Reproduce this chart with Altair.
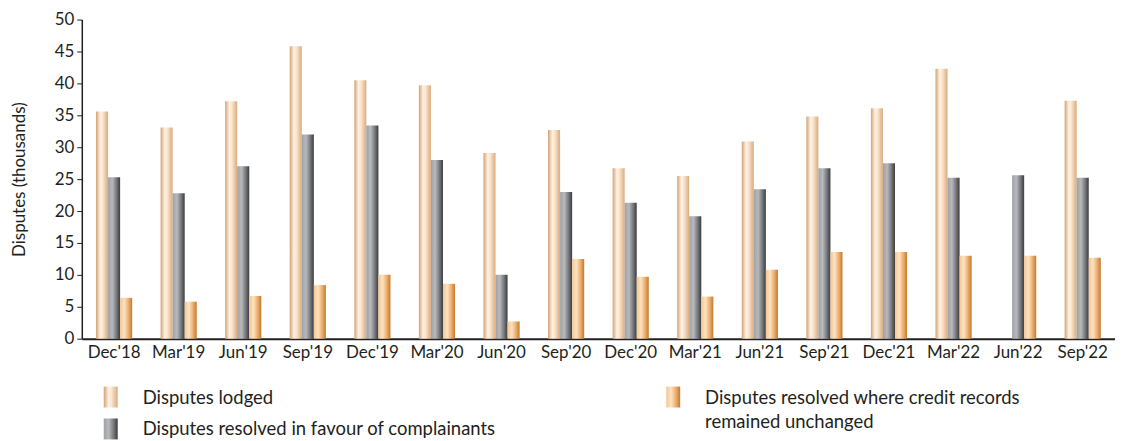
import altair as alt
import pandas as pd

quarters = ["Dec'18", "Mar'19", "Jun'19", "Sep'19", "Dec'19", "Mar'20", "Jun'20", "Sep'20",
            "Dec'20", "Mar'21", "Jun'21", "Sep'21", "Dec'21", "Mar'22", "Jun'22", "Sep'22"]
lodged = [35.6, 33.1, 37.2, 45.8, 40.5, 39.7, 29.1, 32.7, 26.7, 25.5, 30.9, 34.8, 36.1, 42.3, None, 37.3]
favour = [25.3, 22.8, 27.0, 32.0, 33.4, 28.0, 10.0, 23.0, 21.3, 19.2, 23.4, 26.7, 27.5, 25.2, 25.6, 25.2]
unchanged = [6.4, 5.8, 6.7, 8.4, 10.0, 8.6, 2.7, 12.5, 9.7, 6.6, 10.8, 13.6, 13.6, 13.0, 13.0, 12.7]

series = ["Disputes lodged", "Disputes resolved in favour of complainants",
          "Disputes resolved where credit records remained unchanged"]

rows = []
for s, vals in zip(series, [lodged, favour, unchanged]):
    for q, v in zip(quarters, vals):
        if v is not None:
            rows.append({"quarter": q, "series": s, "value": v})
df = pd.DataFrame(rows)

FONT = "Lato"
TXT = "#231f20"


def grad(stops):
    return alt.Gradient(
        gradient="linear", x1=0, x2=1, y1=0, y2=0,
        stops=[alt.GradientStop(color=c, offset=o) for o, c in stops],
    )


fills = [
    grad([(0, "#d4a272"), (0.35, "#fdf1e3"), (0.55, "#fbe6cf"), (1, "#d9ab7e")]),
    grad([(0, "#9ea1a6"), (0.35, "#b7b9bd"), (0.7, "#77797d"), (1, "#3c3c3e")]),
    grad([(0, "#f3c794"), (0.35, "#fde2c2"), (0.7, "#eaae6c"), (1, "#c27a2e")]),
]

x_enc = alt.X("quarter:N", sort=quarters,
              scale=alt.Scale(paddingInner=0.44, paddingOuter=0.22),
              axis=alt.Axis(title=None, labelAngle=0, ticks=False, labelPadding=6,
                            domainColor=TXT, domainWidth=2, labelFontSize=17,
                            labelColor=TXT, labelFont=FONT))
xo_enc = alt.XOffset("series:N", sort=series, scale=alt.Scale(domain=series))
y_enc = alt.Y("value:Q", scale=alt.Scale(domain=[0, 50]),
              axis=alt.Axis(title="Disputes (thousands)", values=list(range(0, 51, 5)),
                            grid=False, tickSize=5, tickColor=TXT, domainColor=TXT,
                            domainWidth=1.5, labelFontSize=17, labelColor=TXT, labelFont=FONT,
                            labelPadding=3, titleFont=FONT, titleFontSize=17,
                            titleFontWeight="normal", titleColor=TXT, titlePadding=26))

layers = []
for s, f in zip(series, fills):
    layers.append(
        alt.Chart(df).transform_filter(alt.datum.series == s)
        .mark_bar(color=f)
        .encode(x=x_enc, xOffset=xo_enc, y=y_enc)
    )

# legend
leg_pos = [(22, 368), (22, 400), (586, 368)]
leg_lines = [["Disputes lodged"], ["Disputes resolved in favour of complainants"],
             ["Disputes resolved where credit records", "remained unchanged"]]
one = pd.DataFrame({"a": [0]})
for (lx, ly), f, lines in zip(leg_pos, fills, leg_lines):
    layers.append(
        alt.Chart(one).mark_rect(color=f).encode(
            x=alt.value(lx), x2=alt.value(lx + 14), y=alt.value(ly), y2=alt.value(ly + 21))
    )
    for i, line in enumerate(lines):
        layers.append(
            alt.Chart(pd.DataFrame({"t": [line]})).mark_text(
                align="left", baseline="middle", font=FONT, fontSize=18.5, color=TXT)
            .encode(text="t:N", x=alt.value(lx + 39), y=alt.value(ly + 11 + 25 * i))
        )

chart = alt.layer(*layers).properties(
    width=1036, height=320,
    autosize=alt.AutoSizeParams(type="none"),
    padding={"left": 74, "top": 11, "right": 0, "bottom": 110},
).configure(background="white").configure_view(stroke=None)

chart.save("out.html", embed_options={"renderer": "svg", "actions": False})
